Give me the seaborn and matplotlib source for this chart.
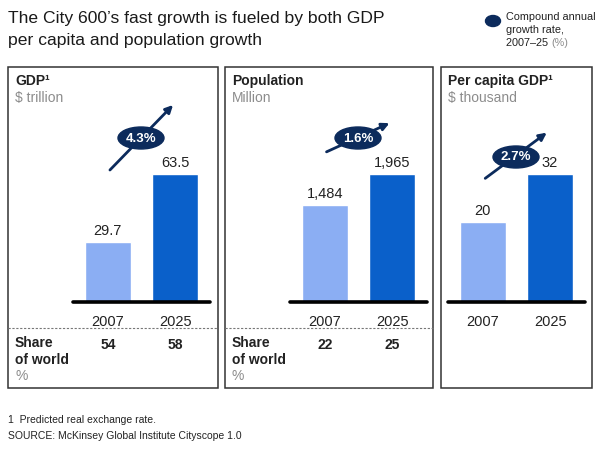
import numpy as np
import pandas as pd
import matplotlib
matplotlib.use('Agg')
import matplotlib.pyplot as plt
from matplotlib.patches import Rectangle, Ellipse, FancyArrowPatch
import seaborn as sns

sns.set_style('white')
plt.rcParams['font.family'] = ['Liberation Sans', 'DejaVu Sans']

# data
years = ['2007', '2025']
gdp = [29.7, 63.5]
population = [1484, 1965]
per_capita = [20, 32]
gdp_labels = ['29.7', '63.5']
pop_labels = ['1,484', '1,965']
pc_labels = ['20', '32']
cagr = ['4.3%', '1.6%', '2.7%']
share_gdp = [54, 58]
share_pop = [22, 25]
panel_titles = ['GDP\u00b9', 'Population', 'Per capita GDP\u00b9']
panel_units = ['$ trillion', 'Million', '$ thousand']

light = '#8BAEF3'
dark = '#0A60CA'
navy = '#0C2B5C'
grey = '#8C8C8C'

W, H = 600, 451
fig = plt.figure(figsize=(6, 4.51), dpi=100)

# pixel layout of each panel: box left/right, bar area left, arrow, ellipse
boxes = [(8, 218), (225, 433), (441, 592)]
bar_left = [73, 290, 448]
arrows = [((108, 172), (175, 103)), ((324, 153), (392, 122)), ((483, 180), (549, 131))]
ovals = [(141, 138), (358, 138), (516, 157)]
box_top, box_bot = 67, 388
base_y, top_y = 302, 110

series = [gdp, population, per_capita]
vlabels = [gdp_labels, pop_labels, pc_labels]

for i, vals in enumerate(series):
    ax = fig.add_axes([bar_left[i] / W, (H - base_y) / H, 137 / W, (base_y - top_y) / H])
    df = pd.DataFrame({'year': years, 'value': vals})
    sns.barplot(data=df, x='year', y='value', hue='year', palette=[light, dark],
                width=0.69, legend=False, ax=ax, saturation=1)
    ax.set_xlim(-0.52, 1.52)
    ax.set_ylim(0, vals[1] * (base_y - top_y) / 128)
    for c, lab in zip(ax.containers, vlabels[i]):
        ax.bar_label(c, labels=[lab], padding=3, fontsize=10.5, color='#222222')
    ax.axhline(0, color='black', lw=2.6, clip_on=False)
    for s in ax.spines.values():
        s.set_visible(False)
    ax.set_yticks([])
    ax.set_xlabel('')
    ax.set_ylabel('')
    ax.tick_params(axis='x', length=0, pad=9, labelsize=10.5, labelcolor='#222222')
    ax.patch.set_alpha(0)

# overlay in pixel coordinates for boxes, texts and arrows
ov = fig.add_axes([0, 0, 1, 1])
ov.set_xlim(0, W)
ov.set_ylim(H, 0)
ov.axis('off')
ov.patch.set_alpha(0)

ov.text(8, 18, 'The City 600\u2019s fast growth is fueled by both GDP', fontsize=12.6,
        color='#1a1a1a', va='center')
ov.text(8, 41, 'per capita and population growth', fontsize=12.6, color='#1a1a1a', va='center')

ov.add_patch(Ellipse((493, 21), 15, 11, color=navy))
ov.text(506, 17, 'Compound annual', fontsize=7.8, va='center', color='#222222')
ov.text(506, 30, 'growth rate,', fontsize=7.8, va='center', color='#222222')
t = ov.text(506, 43, '2007\u201325 ', fontsize=7.8, va='center', color='#222222')
ov.annotate('(%)', xy=(1, 0.5), xycoords=t, va='center', fontsize=7.8, color=grey)

for i, (x0, x1) in enumerate(boxes):
    ov.add_patch(Rectangle((x0, box_top), x1 - x0, box_bot - box_top, fill=False,
                           ec='#333333', lw=1.1))
    ov.text(x0 + 7, 81, panel_titles[i], fontsize=10, fontweight='bold', color='#222222',
            va='center')
    ov.text(x0 + 7, 98, panel_units[i], fontsize=10, color=grey, va='center')
    (ax0, ay0), (ax1, ay1) = arrows[i]
    ov.add_patch(FancyArrowPatch((ax0, ay0), (ax1, ay1), arrowstyle='-|>', mutation_scale=11,
                                 color=navy, lw=2))
    ov.add_patch(Ellipse(ovals[i], 46, 22, color=navy, zorder=5))
    ov.text(ovals[i][0], ovals[i][1] + 0.5, cagr[i], fontsize=9.5, fontweight='bold',
            color='white', ha='center', va='center', zorder=6)

for i, shares in enumerate([share_gdp, share_pop]):
    x0, x1 = boxes[i]
    ov.plot([x0, x1], [328, 328], ls=(0, (2, 1.5)), color='#777777', lw=0.8)
    ov.text(x0 + 7, 343, 'Share', fontsize=10, fontweight='bold', color='#222222', va='center')
    ov.text(x0 + 7, 360, 'of world', fontsize=10, fontweight='bold', color='#222222', va='center')
    ov.text(x0 + 7, 376, '%', fontsize=10, color=grey, va='center')
    for j, v in enumerate(shares):
        cx = bar_left[i] + 35 + j * 67
        ov.text(cx, 345, str(v), fontsize=10, fontweight='bold', color='#222222',
                ha='center', va='center')

ov.text(8, 420, '1  Predicted real exchange rate.', fontsize=7.5, color='#222222', va='center')
ov.text(8, 436, 'SOURCE: McKinsey Global Institute Cityscope 1.0', fontsize=7.5, color='#222222',
        va='center')

fig.savefig('out.png', dpi=100)
